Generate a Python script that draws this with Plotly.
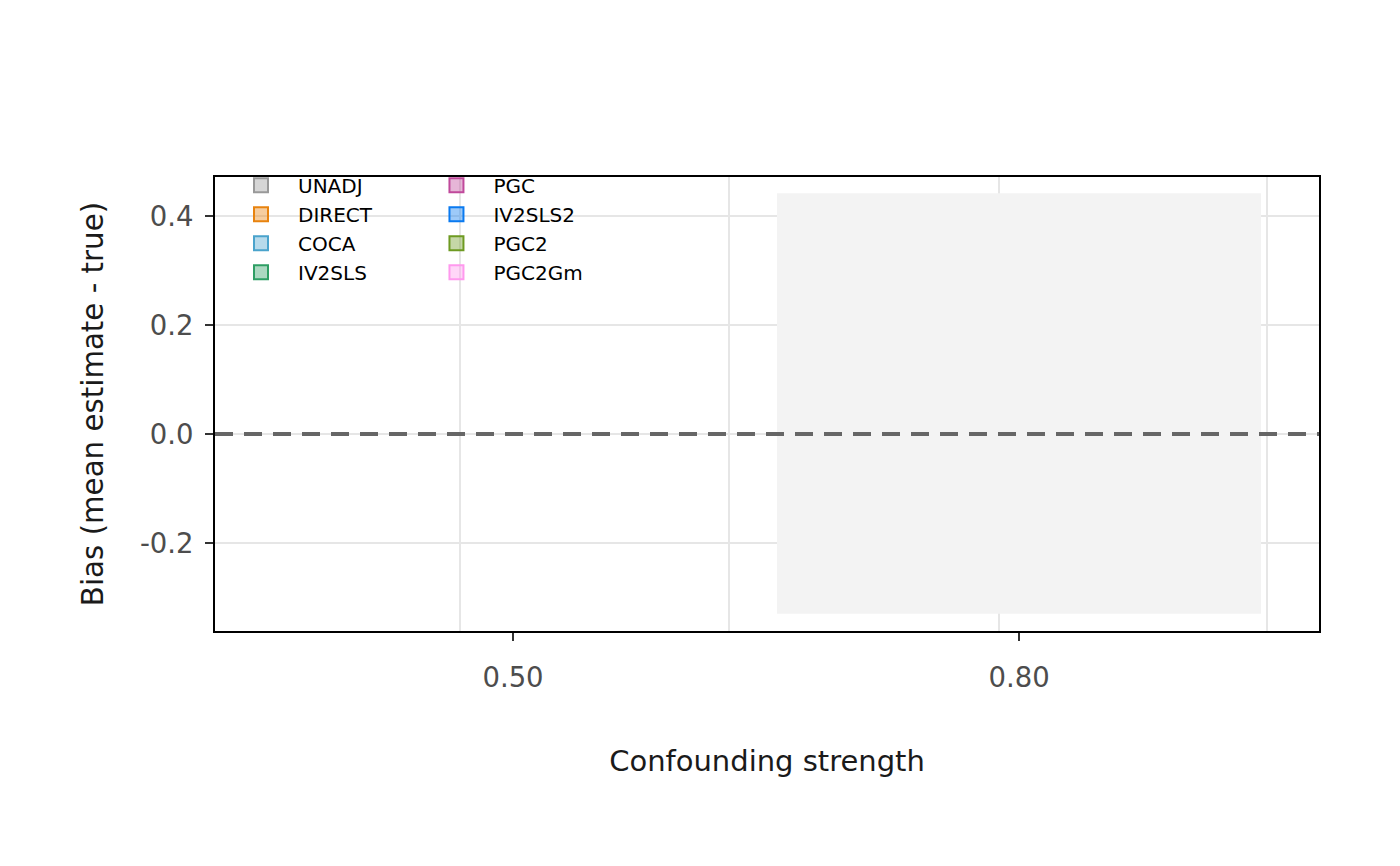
import plotly.graph_objects as go

# ---- data ----
methods = ["UNADJ", "DIRECT", "COCA", "IV2SLS", "PGC", "IV2SLS2", "PGC2", "PGC2Gm"]
method_colors = ["#999999", "#E8830F", "#4AA3CC", "#2E9E64",
                 "#C0499B", "#0A7AF0", "#6E9A22", "#FF99EE"]
confounding_levels = [0.5, 0.8]
confounding_labels = ["0.50", "0.80"]
# no boxes are visible in the reference: every series holds only a missing value
bias_values = {m: [None] for m in methods}
bias_strength = {m: [None] for m in methods}
y_ticks = [-0.2, 0.0, 0.2, 0.4]
y_labels = [f"{v:.1f}" for v in y_ticks]
reference_bias = 0.0
highlight_level = 0.8
highlight_low = -0.330
highlight_high = 0.442

# ---- style ----
FONT = "DejaVu Sans"
band_width = 0.287
grid_x = [0.4686, 0.6281, 0.7881, 0.9470]


def rgba(hex_color, a):
    h = hex_color.lstrip("#")
    r, g, b = int(h[0:2], 16), int(h[2:4], 16), int(h[4:6], 16)
    return f"rgba({r},{g},{b},{a})"


fig = go.Figure()
# highlighted band behind the 0.80 group
fig.add_trace(go.Bar(
    x=[highlight_level], base=[highlight_low], y=[highlight_high - highlight_low],
    width=[band_width], marker=dict(color="#F3F3F3", line=dict(width=0)),
    showlegend=False, hoverinfo="skip",
))
for i, (m, c) in enumerate(zip(methods, method_colors)):
    fig.add_trace(go.Scatter(
        x=bias_strength[m], y=bias_values[m],
        mode="markers",
        name=m,
        marker=dict(symbol="square", size=14, color=rgba(c, 0.4),
                    line=dict(color=c, width=2)),
        legend="legend" if i < 4 else "legend2",
        showlegend=True,
    ))

fig.add_shape(type="line", layer="above",
              xref="x domain", x0=0, x1=1, yref="y",
              y0=reference_bias, y1=reference_bias,
              line=dict(color="#666666", width=4, dash="18px,11px"))

axis_common = dict(
    showline=True, linecolor="black", linewidth=1.8, mirror=True,
    ticks="outside", ticklen=8, tickwidth=1.8, tickcolor="#333333",
    tickfont=dict(family=FONT, size=27.5, color="#4D4D4D"),
    zeroline=False,
)

legend_common = dict(
    y=1.025, xanchor="left", yanchor="top",
    bgcolor="rgba(0,0,0,0)", font=dict(family=FONT, size=20, color="black"),
    itemwidth=64, tracegroupgap=0,
)

fig.update_layout(
    width=1384, height=850,
    margin=dict(l=207, r=73, t=169, b=227),
    paper_bgcolor="white", plot_bgcolor="white",
    font=dict(family=FONT, color="#1A1A1A"),
    xaxis=dict(
        **axis_common,
        range=[0.32332, 0.97786],
        tickmode="array", tickvals=confounding_levels, ticktext=confounding_labels,
        showgrid=False,
        ticklabelstandoff=13,
        minor=dict(tickmode="array", tickvals=grid_x, showgrid=True,
                   gridcolor="#E6E6E6", gridwidth=1.5, ticks=""),
        title=dict(text="Confounding strength",
                   font=dict(family=FONT, size=29, color="#1A1A1A"), standoff=59),
    ),
    yaxis=dict(
        **axis_common,
        range=[-0.3615, 0.4716],
        tickmode="array", tickvals=y_ticks, ticktext=y_labels,
        showgrid=True, gridcolor="#E6E6E6", gridwidth=1.5,
        ticklabelstandoff=6,
        title=dict(text="Bias (mean estimate - true)",
                   font=dict(family=FONT, size=29.3, color="#1A1A1A"), standoff=28),
    ),
    legend=dict(x=0.00815, **legend_common),
    legend2=dict(x=0.1852, **legend_common),
    showlegend=True,
)

fig.write_html("out.html")
